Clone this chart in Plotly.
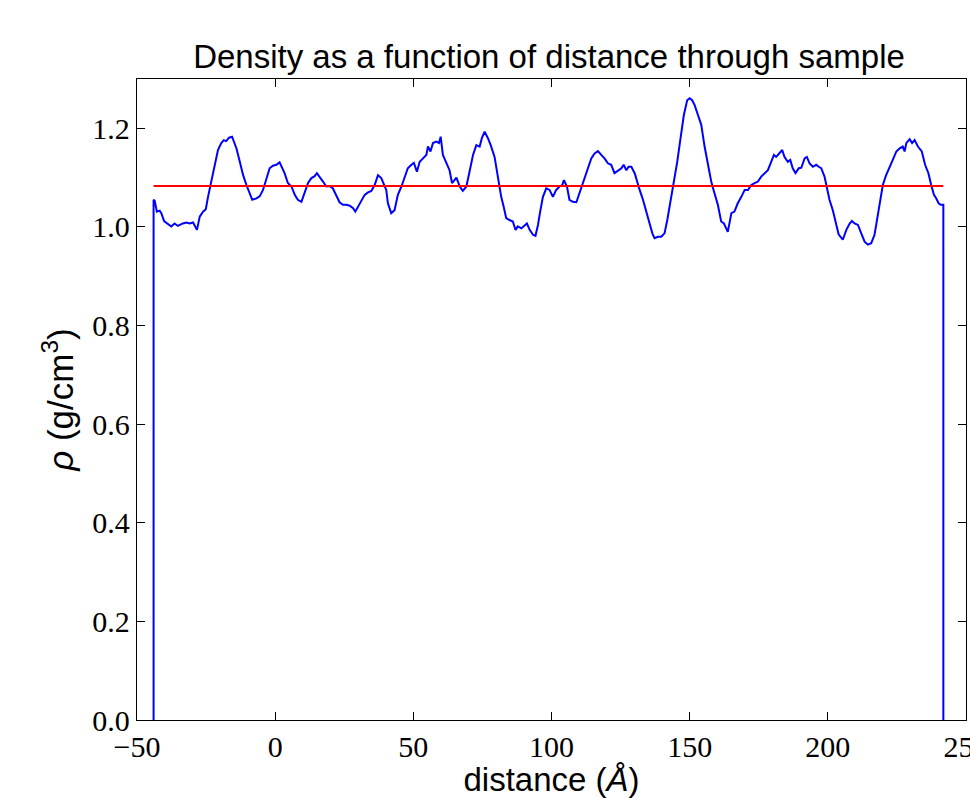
import plotly.graph_objects as go

# distance (Angstrom) and density (g/cm^3)
distance = [
    -44.0, -44.0, -43.6, -42.8, -41.8, -41.2, -40.2, -38.8, -37.6, -36.4, -35.2,
    -33.4, -32.1, -30.9, -29.7, -28.3, -27.3, -26.1, -25.1, -24.3, -23.4, -22.5,
    -21.5, -20.7, -19.5, -18.6, -17.7, -16.7, -15.6, -14.9, -14.0, -12.8, -11.6,
    -10.4, -9.2, -8.3, -6.8, -5.6, -4.4, -3.2, -2.0, -0.8, 0.4, 1.6, 2.6, 3.4,
    4.6, 5.9, 7.1, 8.2, 9.5, 10.7, 11.9, 13.1, 14.3, 15.1, 16.1, 17.3, 18.5,
    19.7, 20.9, 22.1, 23.3, 24.5, 25.8, 27.0, 28.2, 29.0, 30.0, 31.2, 32.4,
    33.6, 34.8, 36.0, 37.2, 38.4, 39.4, 40.2, 40.8, 42.0, 43.2, 44.4, 45.7,
    46.9, 48.0, 49.3, 50.2, 51.3, 52.3, 53.5, 54.7, 55.3, 56.2, 57.1, 58.3,
    59.3, 59.9, 60.7, 61.9, 63.1, 64.0, 65.6, 66.8, 67.9, 69.2, 70.4, 71.6,
    72.8, 74.0, 74.8, 75.8, 77.0, 78.0, 79.4, 80.2, 81.0, 81.8, 82.7, 83.6,
    84.8, 86.0, 87.0, 87.8, 89.1, 90.3, 91.1, 92.1, 93.3, 94.2, 95.1, 95.9,
    96.9, 98.1, 99.3, 100.5, 101.7, 102.9, 103.9, 104.5, 105.6, 106.5, 107.7,
    109.0, 109.9, 110.8, 112.0, 113.2, 114.4, 115.6, 116.8, 118.0, 119.2,
    120.4, 121.6, 122.8, 124.0, 125.3, 126.1, 127.1, 127.9, 128.9, 130.1,
    131.0, 131.9, 133.1, 134.3, 135.5, 136.5, 137.3, 138.5, 139.7, 140.9,
    141.9, 143.1, 144.3, 145.5, 146.7, 147.9, 149.1, 150.0, 150.9, 151.8,
    153.0, 154.2, 155.4, 156.6, 157.8, 158.8, 160.2, 161.4, 162.4, 163.8,
    165.1, 166.2, 167.4, 168.7, 169.9, 171.1, 172.3, 173.5, 174.7, 175.9,
    177.1, 178.3, 179.5, 180.5, 181.3, 182.5, 183.5, 184.3, 185.5, 186.4,
    187.3, 188.3, 189.5, 190.4, 191.6, 192.4, 193.4, 194.6, 195.8, 196.7,
    197.6, 198.8, 199.6, 200.6, 201.8, 203.0, 203.9, 205.4, 206.7, 207.9,
    208.7, 209.7, 210.9, 212.1, 213.3, 214.5, 215.7, 216.9, 217.9, 218.7,
    219.9, 221.1, 222.3, 223.5, 224.8, 225.9, 227.1, 227.8, 228.4, 229.6,
    230.5, 231.4, 232.6, 234.0, 235.2, 236.4, 237.4, 238.4, 239.2, 240.1,
    240.8, 241.8, 241.8,
]
density = [
    0.0, 1.055, 1.053, 1.031, 1.033, 1.028, 1.012, 1.007, 1.001, 1.007, 1.002,
    1.007, 1.009, 1.007, 1.009, 0.994, 1.021, 1.031, 1.036, 1.061, 1.085, 1.109,
    1.139, 1.156, 1.170, 1.176, 1.174, 1.181, 1.183, 1.173, 1.159, 1.132, 1.105,
    1.085, 1.068, 1.055, 1.058, 1.062, 1.075, 1.099, 1.119, 1.124, 1.126, 1.131,
    1.119, 1.109, 1.089, 1.082, 1.065, 1.055, 1.051, 1.068, 1.089, 1.099, 1.103,
    1.109, 1.102, 1.092, 1.082, 1.083, 1.078, 1.065, 1.050, 1.045, 1.045, 1.043,
    1.038, 1.031, 1.041, 1.055, 1.065, 1.070, 1.073, 1.085, 1.105, 1.099, 1.085,
    1.075, 1.048, 1.028, 1.034, 1.065, 1.082, 1.102, 1.119, 1.126, 1.130, 1.112,
    1.132, 1.139, 1.146, 1.163, 1.153, 1.170, 1.173, 1.170, 1.183, 1.146, 1.129,
    1.115, 1.089, 1.100, 1.082, 1.073, 1.082, 1.112, 1.146, 1.166, 1.163, 1.180,
    1.193, 1.180, 1.166, 1.142, 1.112, 1.085, 1.061, 1.041, 1.018, 1.014, 1.011,
    0.994, 1.001, 0.997, 1.004, 1.007, 0.994, 0.984, 0.982, 1.004, 1.031, 1.061,
    1.078, 1.075, 1.061, 1.075, 1.082, 1.085, 1.095, 1.082, 1.055, 1.051, 1.050,
    1.065, 1.082, 1.099, 1.119, 1.139, 1.149, 1.154, 1.146, 1.139, 1.129, 1.126,
    1.109, 1.113, 1.119, 1.126, 1.115, 1.122, 1.122, 1.109, 1.089, 1.075, 1.055,
    1.031, 1.007, 0.987, 0.977, 0.980, 0.980, 0.987, 1.014, 1.051, 1.092, 1.132,
    1.180, 1.227, 1.257, 1.261, 1.257, 1.247, 1.227, 1.207, 1.163, 1.126, 1.092,
    1.072, 1.045, 1.011, 1.007, 0.990, 1.028, 1.031, 1.048, 1.061, 1.075, 1.075,
    1.085, 1.089, 1.092, 1.102, 1.109, 1.115, 1.132, 1.146, 1.142, 1.151, 1.156,
    1.142, 1.132, 1.136, 1.119, 1.109, 1.119, 1.120, 1.139, 1.142, 1.129, 1.122,
    1.126, 1.122, 1.119, 1.102, 1.082, 1.055, 1.034, 1.004, 0.985, 0.974, 0.994,
    1.007, 1.012, 1.007, 1.004, 0.987, 0.970, 0.964, 0.967, 0.984, 1.018, 1.051,
    1.085, 1.105, 1.119, 1.136, 1.153, 1.159, 1.163, 1.153, 1.170, 1.178, 1.170,
    1.176, 1.163, 1.153, 1.126, 1.109, 1.085, 1.065, 1.058, 1.048, 1.045, 1.045,
    0.0,
]
mean_density = 1.083

x_ticks = [-50, 0, 50, 100, 150, 200, 250]
y_ticks = [0.0, 0.2, 0.4, 0.6, 0.8, 1.0, 1.2]

tick_font = dict(family="Liberation Serif, DejaVu Serif, serif", size=30, color="black")
label_font = dict(family="Liberation Sans, Arial, sans-serif", size=33, color="black")

fig = go.Figure()
fig.add_trace(go.Scatter(x=distance, y=density, mode="lines",
                         line=dict(color="#0000ff", width=2), showlegend=False))
fig.add_trace(go.Scatter(x=[distance[0], distance[-1]], y=[mean_density, mean_density],
                         mode="lines", line=dict(color="#ff0000", width=2),
                         showlegend=False))

axis_common = dict(showline=True, linecolor="black", linewidth=1.3, mirror="ticks",
                   ticks="inside", ticklen=8, tickwidth=1, tickcolor="black",
                   showgrid=False, zeroline=False, tickfont=tick_font,
                   ticklabeloverflow="allow")

fig.update_layout(
    width=970, height=798,
    margin=dict(l=137, r=4, t=79, b=78),
    paper_bgcolor="white", plot_bgcolor="white",
    title=dict(text="Density as a function of distance through sample",
               font=dict(family="Liberation Sans, Arial, sans-serif", size=33, color="black"),
               xref="paper", x=0.497, xanchor="center",
               yref="container", y=0.915, yanchor="bottom"),
    xaxis=dict(range=[-50, 250], tickvals=x_ticks, automargin=False,
               ticklabelstandoff=0,
               title=dict(text="distance (<i>Å</i>)", font=label_font, standoff=19),
               **axis_common),
    yaxis=dict(range=[0, 1.3], tickvals=y_ticks, tickformat=".1f", automargin=False,
               ticklabelstandoff=0,
               title=dict(text="<i>ρ</i> (g/cm<sup>3</sup>)",
                          font=dict(label_font, size=35), standoff=8),
               **axis_common),
)

# drop the page margin / scrollbars so the figure sits at the window corner
fig.write_html("out.html", config={"displayModeBar": False},
               post_script="document.body.style.margin='0';"
                           "document.body.style.overflow='hidden';")
